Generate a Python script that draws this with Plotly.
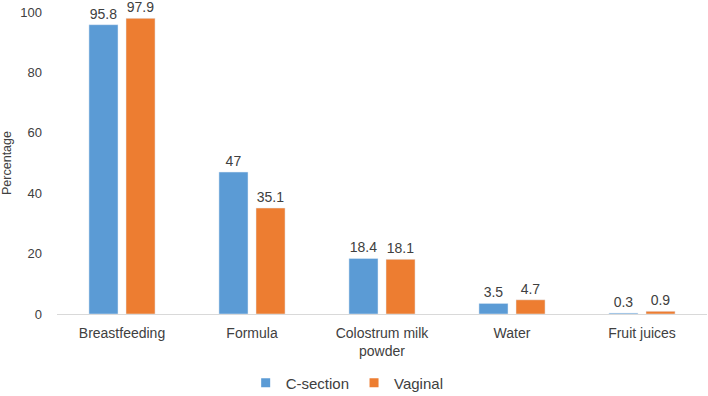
import plotly.graph_objects as go

categories = ["Breastfeeding", "Formula", "Colostrum milk<br>powder", "Water", "Fruit juices"]
c_section = [95.8, 47, 18.4, 3.5, 0.3]
vaginal = [97.9, 35.1, 18.1, 4.7, 0.9]
c_labels = ["95.8", "47", "18.4", "3.5", "0.3"]
v_labels = ["97.9", "35.1", "18.1", "4.7", "0.9"]

blue = "#5B9BD5"
orange = "#ED7D31"
font = "'Liberation Sans', Arial, sans-serif"

fig = go.Figure()
fig.add_trace(go.Bar(x=categories, y=c_section, name="C-section", marker_color=blue,
                     text=c_labels, textposition="outside", cliponaxis=False,
                     textfont=dict(size=14, color="#404040"), showlegend=False))
fig.add_trace(go.Bar(x=categories, y=vaginal, name="Vaginal", marker_color=orange,
                     text=v_labels, textposition="outside", cliponaxis=False,
                     textfont=dict(size=14, color="#404040"), showlegend=False))
# legend entries with small square swatches
fig.add_trace(go.Scatter(x=[None], y=[None], mode="markers", name="C-section",
                         marker=dict(symbol="square", size=9, color=blue)))
fig.add_trace(go.Scatter(x=[None], y=[None], mode="markers", name="Vaginal",
                         marker=dict(symbol="square", size=9, color=orange)))

fig.update_layout(
    width=708, height=396,
    margin=dict(l=57, r=1, t=12, b=82),
    paper_bgcolor="white", plot_bgcolor="white",
    barmode="group", bargap=0.43, bargroupgap=0.216,
    font=dict(family=font, size=13, color="#404040"),
    showlegend=True,
    legend=dict(orientation="h", xref="container", yref="container",
                x=0.347, xanchor="left", y=0.033, yanchor="middle",
                font=dict(size=15, color="#404040"), itemwidth=30, traceorder="normal",
                tracegroupgap=0),
)
fig.update_xaxes(showline=True, linecolor="#D9D9D9", linewidth=1, ticks="",
                 tickfont=dict(size=14, color="#404040"), showgrid=False, automargin=False,
                 ticklabelstandoff=6)
fig.update_yaxes(range=[0, 100], tickvals=[0, 20, 40, 60, 80, 100], showgrid=False,
                 zeroline=False, showline=False, tickfont=dict(size=13, color="#404040"),
                 automargin=False, ticklabelstandoff=14,
                 title=dict(text="Percentage", font=dict(size=12.5, color="#404040"), standoff=8))

fig.write_html("out.html", config={"displayModeBar": False},
               post_script="document.body.style.margin='0';")
